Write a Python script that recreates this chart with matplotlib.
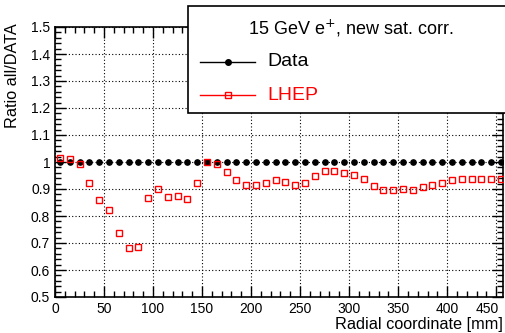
import numpy as np
import matplotlib.pyplot as plt
from matplotlib.patches import Rectangle
from matplotlib.lines import Line2D
from matplotlib.ticker import MultipleLocator
from matplotlib.transforms import ScaledTranslation

plt.rcParams['font.family'] = ['Liberation Sans', 'DejaVu Sans']

# Data
radius = np.arange(5, 460, 10)  # bin centres [mm]
data_ratio = np.ones(len(radius))
lhep_ratio = [1.016, 1.011, 0.994, 0.922, 0.860, 0.822, 0.738, 0.682, 0.687, 0.866,
              0.901, 0.871, 0.874, 0.862, 0.921, 1.001, 0.991, 0.962, 0.933, 0.913,
              0.913, 0.922, 0.933, 0.927, 0.915, 0.924, 0.948, 0.966, 0.967, 0.961,
              0.951, 0.937, 0.912, 0.898, 0.896, 0.899, 0.896, 0.906, 0.915, 0.924,
              0.933, 0.937, 0.937, 0.937, 0.938, 0.937]

W, H = 506, 333
fig = plt.figure(figsize=(W / 100, H / 100), dpi=100)
ax = fig.add_axes([55 / W, (H - 297) / H, (503 - 55) / W, (297 - 27) / H])

ax.plot(radius, data_ratio, 'o', color='black', markersize=3.8, zorder=3)
ax.plot(radius, lhep_ratio, 's', mfc='none', mec='red', markersize=5, mew=1.0, zorder=4)

ax.set_xlim(0, 457)
ax.set_ylim(0.5, 1.5)
ax.xaxis.set_major_locator(MultipleLocator(50))
ax.xaxis.set_minor_locator(MultipleLocator(10))
ax.yaxis.set_major_locator(MultipleLocator(0.1))
ax.yaxis.set_minor_locator(MultipleLocator(0.02))
ax.yaxis.set_major_formatter(plt.FuncFormatter(lambda v, p: ('%g' % round(v, 2))))
ax.tick_params(which='both', direction='in', top=True, right=True, labelsize=10, width=1)
ax.tick_params(which='major', length=8)
ax.tick_params(which='minor', length=4)
ax.grid(True, which='major', linestyle=(0, (1, 2)), color='black', linewidth=0.8)
for s in ax.spines.values():
    s.set_linewidth(1.2)

# nudge the last x label inside the canvas, like ROOT does
fig.canvas.draw()
for lab in ax.get_xticklabels():
    if lab.get_text() == '450':
        lab.set_transform(lab.get_transform() + ScaledTranslation(-0.09, 0, fig.dpi_scale_trans))

fig.text(503 / W, 1 - 325 / H, 'Radial coordinate [mm]', ha='right', va='center', fontsize=11.7)
fig.text(13 / W, 1 - 23 / H, 'Ratio all/DATA', ha='center', va='top', rotation=90, fontsize=11.7)

# Legend box
fig.patches.append(Rectangle((188 / W, 1 - 113 / H), (520 - 188) / W, (113 - 6) / H,
                             transform=fig.transFigure, facecolor='white',
                             edgecolor='black', linewidth=1.2, zorder=10))
fig.text(351 / W, 1 - 28 / H, '15 GeV e$^{+}$, new sat. corr.', ha='center', va='center',
         fontsize=13, zorder=11)
for yy, lbl, col, mk, mfc in [(62, 'Data', 'black', 'o', 'black'), (95, 'LHEP', 'red', 's', 'none')]:
    fig.add_artist(Line2D([200 / W, 255 / W], [1 - yy / H, 1 - yy / H], color=col, lw=1,
                          transform=fig.transFigure, zorder=11))
    fig.add_artist(Line2D([228 / W], [1 - yy / H], color=col, marker=mk, mfc=mfc, mec=col,
                          markersize=4, ls='none', transform=fig.transFigure, zorder=12))
    fig.text(267 / W, 1 - yy / H, lbl, ha='left', va='center', fontsize=14, color=col, zorder=11)

fig.savefig('out.png', dpi=100)
